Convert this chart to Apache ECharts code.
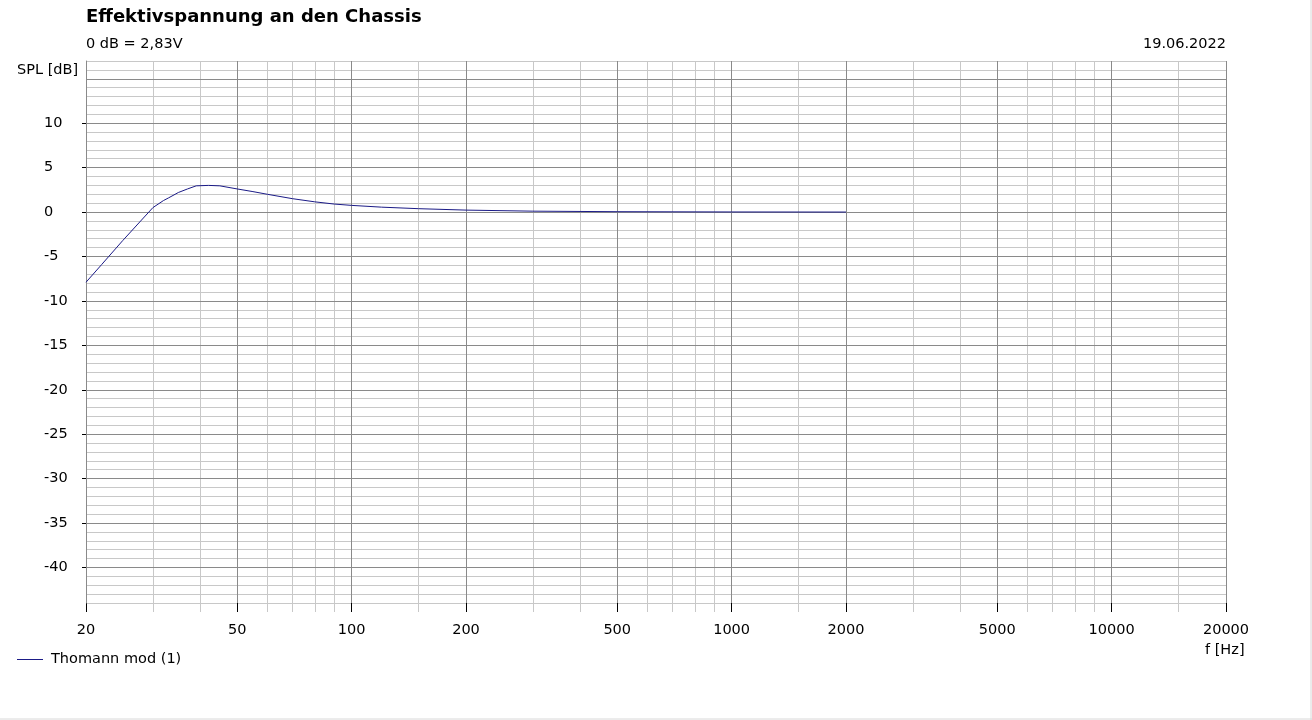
<!DOCTYPE html>
<html>
<head>
<meta charset="utf-8">
<script src="https://cdn.jsdelivr.net/npm/echarts@6/dist/echarts.min.js"></script>
<style>
  html, body { margin: 0; padding: 0; background: #fff; }
  #chart { width: 1312px; height: 720px; }
</style>
</head>
<body>
<div id="chart"></div>
<script>
// frequency response
const freqs = [20, 22, 25, 28, 30, 32, 33, 35, 37, 39, 42, 45, 50, 55, 60, 70, 80, 90, 100, 120, 150, 200, 300, 500, 1000, 2000];
const spl = [-7.9, -5.9, -3.2, -0.9, 0.5, 1.3, 1.6, 2.2, 2.6, 2.95, 3.0, 2.95, 2.6, 2.3, 2.0, 1.5, 1.15, 0.9, 0.75, 0.55, 0.38, 0.22, 0.1, 0.04, 0.01, 0];

const xMajor = [20, 50, 100, 200, 500, 1000, 2000, 5000, 10000, 20000];
const xMinor = [30, 40, 60, 70, 80, 90, 150, 300, 400, 600, 700, 800, 900, 1500, 3000, 4000, 6000, 7000, 8000, 9000, 15000];
const yLabels = [-40, -35, -30, -25, -20, -15, -10, -5, 0, 5, 10];
const yMajor = [-40, -35, -30, -25, -20, -15, -10, -5, 0, 5, 10, 15];

const font = 'DejaVu Sans';
const fs = 14.5;
const majorColor = '#8a8a8a';
const minorColor = '#c8c8c8';
const lineColor = '#1b1b87';

const chart = echarts.init(document.getElementById('chart'));

const xBase = {
    type: 'log',
    logBase: 10,
    min: 20,
    max: 20000,
    position: 'bottom',
    axisLine: { show: false, onZero: false }
};
const yBase = {
    type: 'value',
    min: -44,
    max: 17,
    position: 'left'
};
const plain = { fontFamily: font, fontSize: fs, fontWeight: 'normal', color: '#000' };

const option = {
    animation: false,
    backgroundColor: '#fff',
    title: [
        { text: 'Effektivspannung an den Chassis', left: 86, top: 8, padding: 0,
          textStyle: { fontFamily: font, fontSize: 18, fontWeight: 'bold', color: '#000' } },
        { text: '0 dB = 2,83V', left: 86, top: 37, padding: 0, textStyle: plain },
        { text: '19.06.2022', right: 86, top: 37, padding: 0, textStyle: plain },
        { text: 'SPL [dB]', left: 17, top: 63, padding: 0, textStyle: plain },
        { text: 'f [Hz]', left: 1205, top: 643, padding: 0, textStyle: plain }
    ],
    legend: {
        left: 17,
        top: 652,
        padding: 0,
        itemWidth: 26,
        itemHeight: 1,
        icon: 'path://M0,0H26V1H0Z',
        itemStyle: { color: lineColor },
        textStyle: { fontFamily: font, fontSize: fs, color: '#000', padding: [0, 0, 0, 3] },
        data: ['Thomann mod (1)']
    },
    grid: {
        left: 86,
        right: 86,
        top: 61,
        bottom: 117,
        outerBoundsMode: 'none'
    },
    xAxis: [
        // major lines + labels
        Object.assign({}, xBase, {
            z: 1,
            axisTick: { show: true, customValues: xMajor, length: 9, lineStyle: { color: '#000' } },
            axisLabel: { show: true, customValues: xMajor, margin: 20, color: '#000',
                         fontFamily: font, fontSize: fs, formatter: v => String(Math.round(v)) },
            splitLine: { show: true, lineStyle: { color: majorColor, width: 1 } }
        }),
        // minor lines
        Object.assign({}, xBase, {
            z: 0,
            axisTick: { show: true, customValues: xMinor, length: 9, lineStyle: { color: minorColor } },
            axisLabel: { show: false },
            splitLine: { show: true, lineStyle: { color: minorColor, width: 1 } }
        })
    ],
    yAxis: [
        // labels, ticks, axis line
        Object.assign({}, yBase, {
            z: 2,
            axisLine: { show: true, onZero: false, lineStyle: { color: majorColor } },
            axisTick: { show: true, customValues: yLabels, length: 4, lineStyle: { color: '#000' } },
            axisLabel: { show: true, customValues: yLabels, margin: 42, align: 'left', color: '#000',
                         fontFamily: font, fontSize: fs, padding: [4, 0, 0, 0] },
            splitLine: { show: false }
        }),
        // major lines every 5 dB
        Object.assign({}, yBase, {
            z: 1,
            axisLine: { show: false, onZero: false },
            axisTick: { show: false, customValues: yMajor },
            axisLabel: { show: false },
            splitLine: { show: true, lineStyle: { color: majorColor, width: 1 } }
        }),
        // minor lines every 1 dB
        Object.assign({}, yBase, {
            z: 0,
            interval: 1,
            axisLine: { show: false, onZero: false },
            axisTick: { show: false },
            axisLabel: { show: false },
            splitLine: { show: true, lineStyle: { color: minorColor, width: 1 } }
        })
    ],
    graphic: [
        { type: 'line', shape: { x1: 1311, y1: 0, x2: 1311, y2: 720 }, style: { stroke: '#d8d8d8', lineWidth: 1 } },
        { type: 'line', shape: { x1: 0, y1: 719, x2: 1312, y2: 719 }, style: { stroke: '#d8d8d8', lineWidth: 1 } }
    ],
    series: [{
        name: 'Thomann mod (1)',
        type: 'line',
        xAxisIndex: 0,
        yAxisIndex: 0,
        z: 5,
        symbol: 'none',
        smooth: false,
        lineStyle: { color: lineColor, width: 1 },
        itemStyle: { color: lineColor },
        data: freqs.map((f, i) => [f, spl[i]])
    }]
};

chart.setOption(option);
</script>
</body>
</html>
